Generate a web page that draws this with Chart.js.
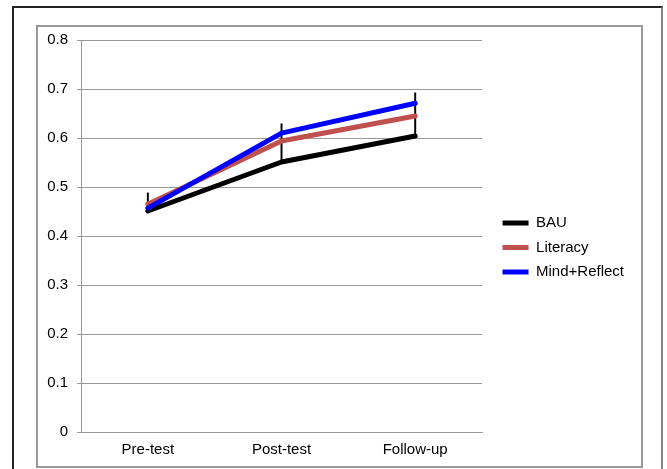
<!DOCTYPE html>
<html>
<head>
<meta charset="utf-8">
<script src="https://cdn.jsdelivr.net/npm/chart.js@4/dist/chart.umd.min.js"></script>
<style>
  html, body { margin: 0; padding: 0; background: #fff; }
  body { width: 667px; height: 469px; position: relative; overflow: hidden; }
  #outer { position: absolute; left: 12px; top: 6px; width: 651px; height: 470px;
           border-left: 2px solid #222; border-top: 2px solid #222; border-right: 2px solid #888; box-sizing: border-box; }
  #inner { position: absolute; left: 36px; top: 25px; width: 607px; height: 443px;
           border: 2px solid #999; box-sizing: border-box; }
  #wrap { position: absolute; left: 38px; top: 27px; width: 602px; height: 438px; }
  canvas { display: block; }
</style>
</head>
<body>
<div id="outer"></div>
<div id="inner"></div>
<div id="wrap"><canvas id="c" width="602" height="438"></canvas></div>
<script>
const categories = ["Pre-test", "Post-test", "Follow-up"];
const bau = [0.451, 0.551, 0.604];
const literacy = [0.465, 0.594, 0.645];
const mindReflect = [0.457, 0.610, 0.671];
const errLow = [0.455, 0.555, 0.602];
const errHigh = [0.488, 0.629, 0.692];
const yTicks = [0, 0.1, 0.2, 0.3, 0.4, 0.5, 0.6, 0.7, 0.8];

const font = { family: "'Liberation Sans', Arial, sans-serif", size: 15 };

const legendShift = {
  id: 'legendShift',
  afterInit(chart) {
    const lg = chart.legend;
    if (!lg) return;
    const orig = lg.fit;
    lg.fit = function () { orig.call(this); this.width += 11; };
  },
  afterLayout(chart) {
    const lg = chart.legend;
    if (!lg) return;
    lg.left += 11;
    lg.top -= 5;
    lg.bottom -= 5;
  }
};

new Chart(document.getElementById('c'), {
  type: 'line',
  data: {
    labels: categories,
    datasets: [
      { label: 'BAU', data: bau, borderColor: '#000000', backgroundColor: '#000000', borderWidth: 5,
        pointRadius: 0, borderCapStyle: 'round', borderJoinStyle: 'round', order: 3 },
      { label: 'Literacy', data: literacy, borderColor: '#c0504d', backgroundColor: '#c0504d', borderWidth: 5,
        pointRadius: 0, borderCapStyle: 'round', borderJoinStyle: 'round', order: 2 },
      { label: 'Mind+Reflect', data: mindReflect, borderColor: '#0000ff', backgroundColor: '#0000ff', borderWidth: 5,
        pointRadius: 0, borderCapStyle: 'round', borderJoinStyle: 'round', order: 1 },
      { type: 'bar', label: 'err', data: errLow.map((l, i) => [l, errHigh[i]]),
        backgroundColor: '#000000', borderWidth: 0, barThickness: 1.3, order: 10 }
    ]
  },
  plugins: [legendShift],
  options: {
    responsive: false,
    animation: false,
    events: [],
    layout: { autoPadding: false, padding: { top: 13, left: 0, right: 6, bottom: 0 } },
    plugins: {
      tooltip: { enabled: false },
      legend: {
        position: 'right',
        labels: {
          font: font, color: '#000',
          usePointStyle: true, pointStyle: 'line', pointStyleWidth: 26,
          padding: 9.5,
          filter: (item) => item.text !== 'err',
          sort: (a, b) => a.datasetIndex - b.datasetIndex
        }
      }
    },
    scales: {
      x: {
        grid: { display: false, drawTicks: false },
        border: { color: '#999', width: 1 },
        ticks: { font: font, color: '#000', padding: 9 },
        afterFit: (s) => { s.height = 33; }
      },
      y: {
        min: 0, max: 0.8,
        afterBuildTicks: (s) => { s.ticks = yTicks.map(v => ({ value: v })); },
        grid: { color: '#999', lineWidth: 1, tickLength: 4 },
        border: { color: '#999', width: 1 },
        ticks: { font: font, color: '#000', padding: 9,
                 callback: (v) => (Math.round(v * 10) / 10).toString() },
        afterFit: (s) => { s.width = 43; s.paddingTop = 0; s.paddingBottom = 0; }
      }
    }
  }
});
</script>
</body>
</html>
